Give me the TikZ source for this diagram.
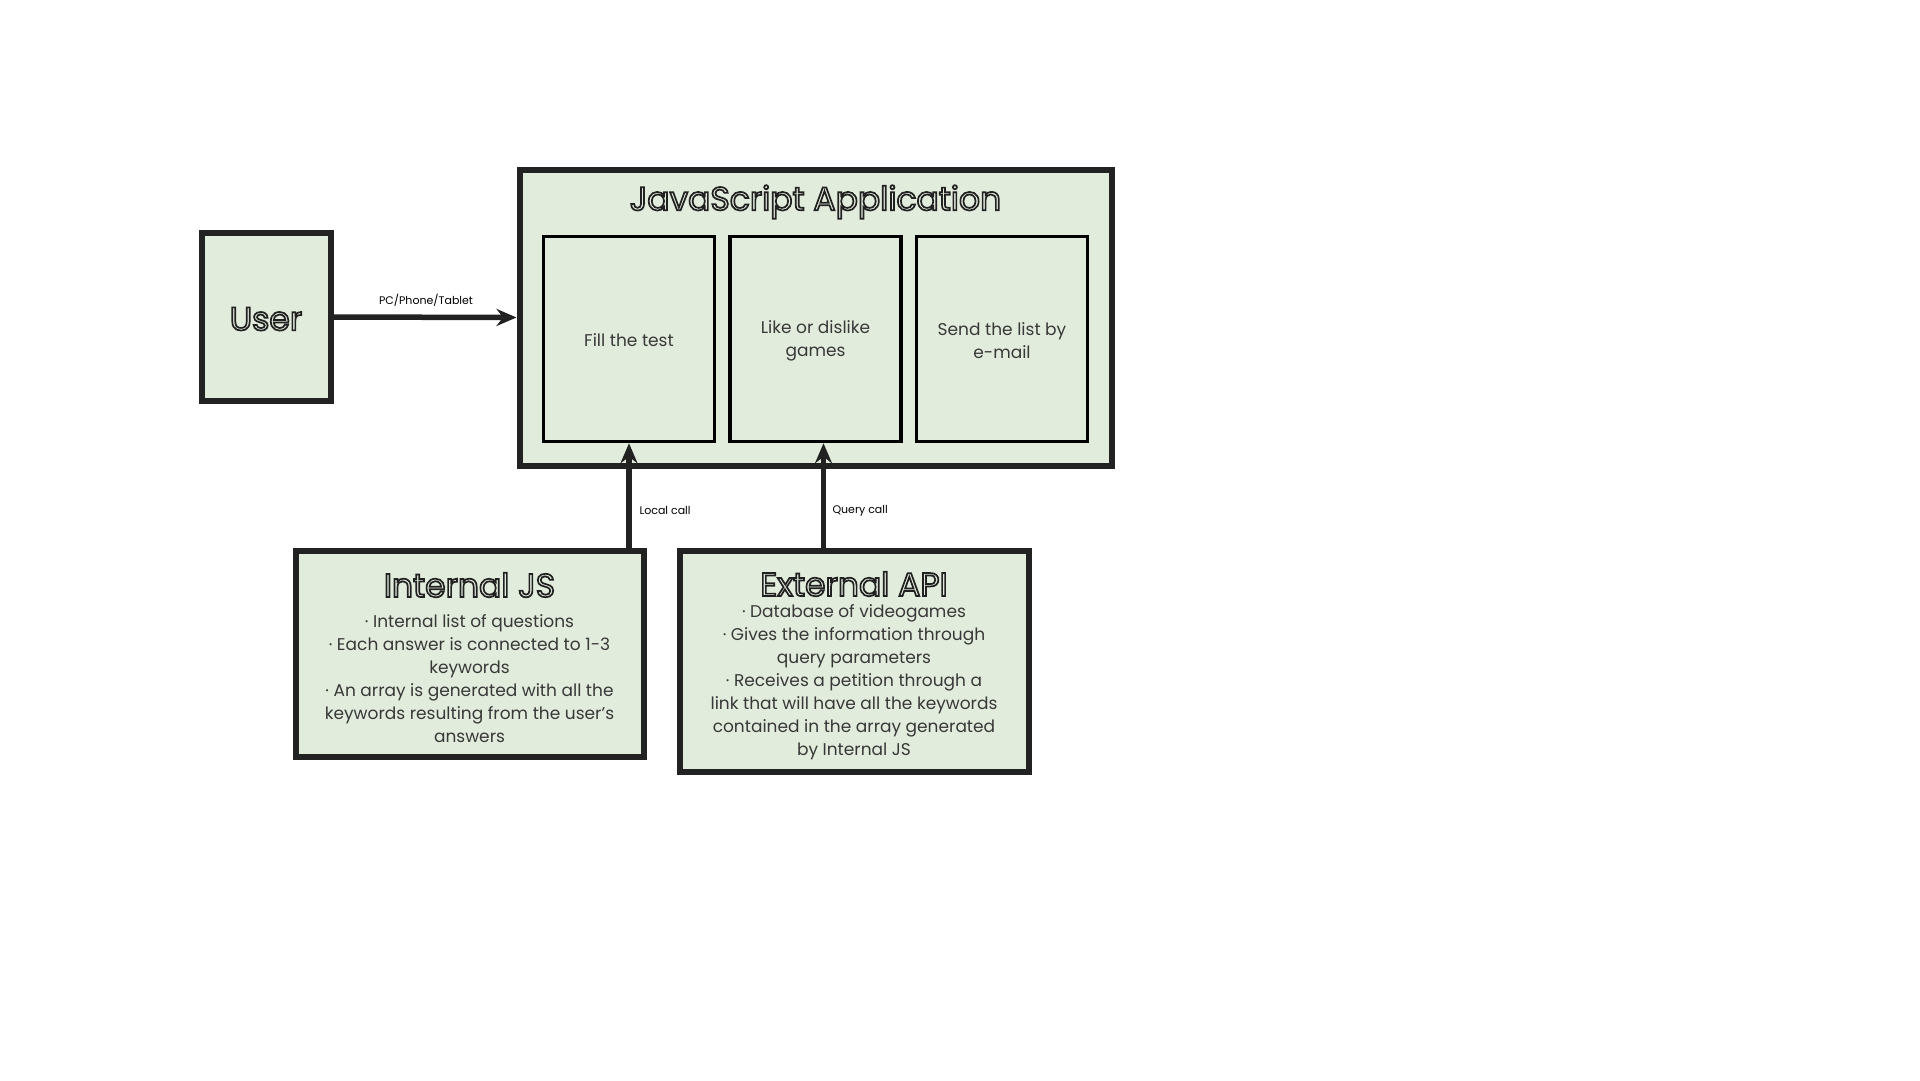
\documentclass[tikz,border=0pt]{standalone}
\usepackage{fontspec}
\setmainfont{Poppins}
\usetikzlibrary{arrows.meta}
\definecolor{boxfill}{HTML}{E2ECDC}
\definecolor{ink}{HTML}{222222}
\newcommand{\hollow}[1]{\special{pdf:literal direct 0.886 0.925 0.863 rg 0.13 0.13 0.13 RG 1.7 w 2 Tr}#1\special{pdf:literal direct 0 Tr 0.13 0.13 0.13 rg 1 w}}
\tikzset{
  bigbox/.style={draw=ink, fill=boxfill, line width=6pt, inner sep=0pt},
  innerbox/.style={draw=black, fill=boxfill, line width=3.5pt, inner sep=0pt, minimum width=171pt, minimum height=205pt},
  innertext/.style={align=center, font=\fontsize{17}{23}\selectfont, text=ink!90},
  conn/.style={draw=ink, line width=5.5pt, -{Stealth[length=20pt,width=17pt]}},
  lbl/.style={font=\fontsize{11}{13}\selectfont, text=black},
  ttl/.style={font=\fontsize{33}{38}\selectfont, text=ink},
  body/.style={font=\fontsize{17}{23}\selectfont, text=ink!90, align=center}
}
\begin{document}
\begin{tikzpicture}[x=1pt, y=-1pt]
\useasboundingbox (0,0) rectangle (1920,1080);
% User
\node[bigbox, minimum width=129pt, minimum height=168pt] (user) at (266,317) {};
\node[ttl] (usert) at (266,319) {\hollow{User}};
% JS App
\node[bigbox, minimum width=592pt, minimum height=296pt] (app) at (815.5,317.5) {};
\node[ttl] (appt) at (815.5,202) {\hollow{JavaScript Application}};
\node[innerbox] (fill) at (629,339) {};
\node[innerbox] (like) at (815.5,339) {};
\node[innerbox] (send) at (1002,339) {};
\node[innertext] (fillt) at (629,340) {Fill the test};
\node[innertext] (liket) at (815.5,341) {Like or dislike\\games};
\node[innertext] (sendt) at (1002,341) {Send the list by\\e-mail};
% Internal JS
\node[bigbox, minimum width=348pt, minimum height=206pt] (ijs) at (469.5,654) {};
\node[ttl] (ijsh) at (469.5,585) {\hollow{Internal JS}};
\node[body] (ijst) at (469.5,679) {· Internal list of questions\\
· Each answer is connected to 1-3\\
keywords\\
· An array is generated with all the\\
keywords resulting from the user’s\\
answers};
% External API
\node[bigbox, minimum width=349pt, minimum height=221pt] (api) at (854,661.5) {};
\node[ttl] (apih) at (854,584) {\hollow{External API}};
\node[body] (apit) at (854,682) {· Database of videogames\\
· Gives the information through\\
query parameters\\
· Receives a petition through a\\
link that will have all the keywords\\
contained in the array generated\\
by Internal JS};
% connectors
\draw[conn] (user.east) -- (app.west);
\node[lbl] (pc) at (426,300) {PC/Phone/Tablet};
\draw[conn] (fill.south |- ijs.north) -- (fill.south);
\node[lbl, anchor=west] (lc) at (636,510) {Local call};
\draw[conn] ([xshift=8pt]like.south |- api.north) -- ([xshift=8pt]like.south);
\node[lbl, anchor=west] (qc) at (829,511) {Query call};
\end{tikzpicture}
\end{document}
